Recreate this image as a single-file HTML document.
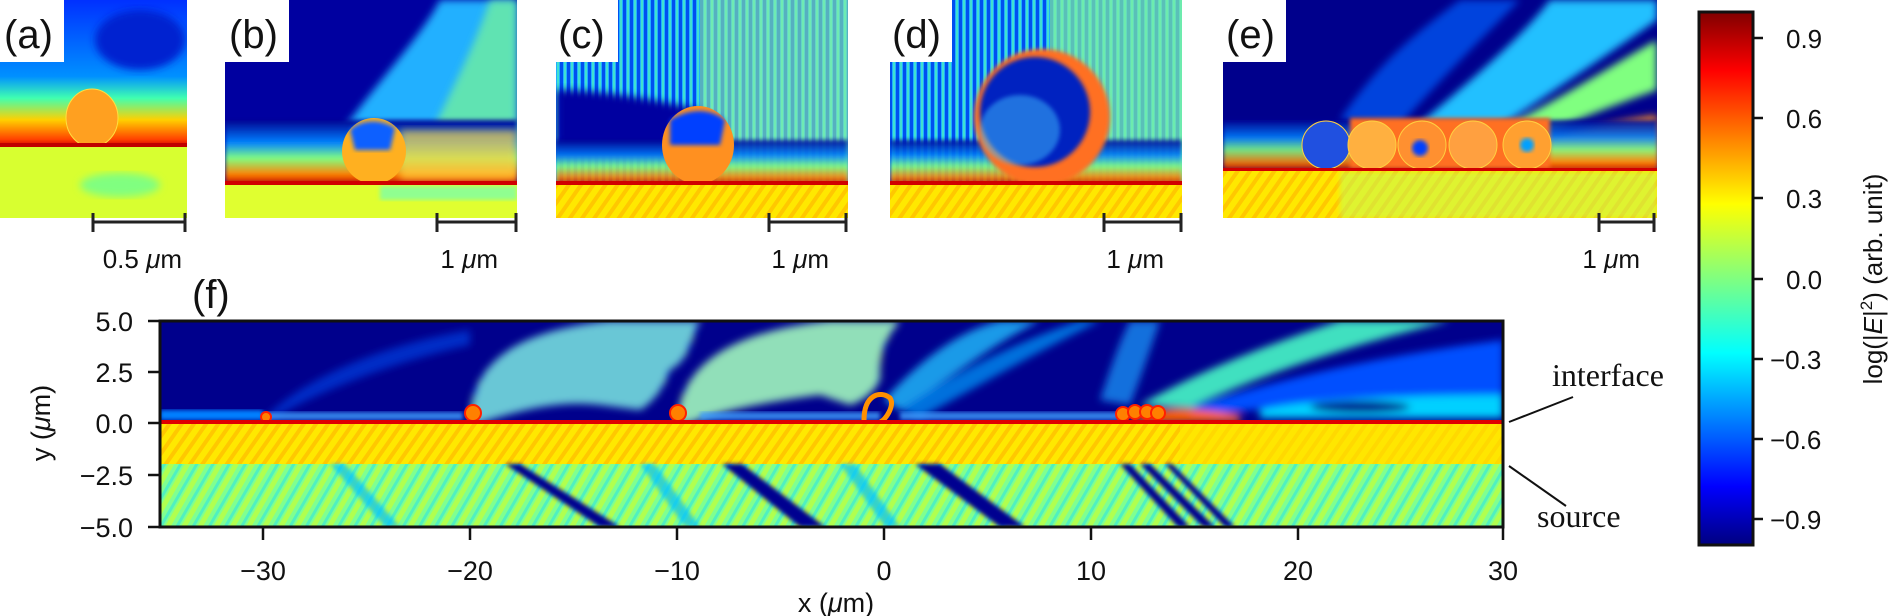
<!DOCTYPE html>
<html><head><meta charset="utf-8"><style>
html,body{margin:0;padding:0;background:#fff;}
svg{display:block;}
text{font-family:"Liberation Sans",sans-serif;fill:#111;}
.serif{font-family:"Liberation Serif",serif;}
</style></head><body>
<svg width="1891" height="616" viewBox="0 0 1891 616" xmlns="http://www.w3.org/2000/svg">
<defs>
<linearGradient id="jet" x1="0" y1="0" x2="0" y2="1">
<stop offset="0" stop-color="#800000"/><stop offset="0.11" stop-color="#ff0000"/>
<stop offset="0.36" stop-color="#ffff00"/><stop offset="0.5" stop-color="#80ff80"/>
<stop offset="0.64" stop-color="#00ffff"/><stop offset="0.89" stop-color="#0000ff"/>
<stop offset="1" stop-color="#000080"/></linearGradient>
<pattern id="vs" width="7" height="10" patternUnits="userSpaceOnUse">
<rect width="7" height="10" fill="#20b0ff"/><rect width="3" height="10" fill="#0050f0"/><rect x="4" width="2" height="10" fill="#40e0d0"/></pattern>
<pattern id="vsd" width="7" height="10" patternUnits="userSpaceOnUse">
<rect width="7" height="10" fill="#40e0e0"/><rect width="3" height="10" fill="#1070ff"/><rect x="4" width="2" height="10" fill="#b0ff60"/></pattern>
<pattern id="vs2" width="7" height="10" patternUnits="userSpaceOnUse">
<rect width="7" height="10" fill="#70f0b0"/><rect width="2" height="10" fill="#1090ff"/><rect x="4" width="2" height="10" fill="#e0ff30"/></pattern>
<pattern id="ys" width="10" height="10" patternUnits="userSpaceOnUse" patternTransform="rotate(35)">
<rect width="10" height="10" fill="#ffe800"/><rect width="4" height="10" fill="#ffc800"/></pattern>
<pattern id="gs" width="14" height="10" patternUnits="userSpaceOnUse" patternTransform="rotate(30)">
<rect width="14" height="10" fill="#80ff90"/><rect width="5" height="10" fill="#b0ff50"/><rect x="9" width="3" height="10" fill="#50f0c0"/></pattern>
<filter id="bl"><feGaussianBlur stdDeviation="4"/></filter>
<filter id="bl2"><feGaussianBlur stdDeviation="2"/></filter>
<clipPath id="cf"><rect x="160" y="321" width="1343" height="206"/></clipPath>
<clipPath id="ca"><rect x="0" y="0" width="187" height="218"/></clipPath>
<clipPath id="cb"><rect x="225" y="0" width="292" height="218"/></clipPath>
<clipPath id="cc"><rect x="556" y="0" width="292" height="218"/></clipPath>
<clipPath id="cd"><rect x="890" y="0" width="292" height="218"/></clipPath>
<clipPath id="ce"><rect x="1223" y="0" width="434" height="218"/></clipPath>
<linearGradient id="ga" x1="0" y1="0" x2="0" y2="1">
<stop offset="0" stop-color="#0030ff"/><stop offset="0.35" stop-color="#0090ff"/><stop offset="0.45" stop-color="#40ffb0"/>
<stop offset="0.55" stop-color="#ffd000"/><stop offset="0.64" stop-color="#ff4000"/><stop offset="0.67" stop-color="#d00000"/>
<stop offset="0.68" stop-color="#ffd000"/><stop offset="1" stop-color="#d0ff30"/></linearGradient>
<linearGradient id="band" x1="0" y1="0" x2="0" y2="1">
<stop offset="0" stop-color="#000090"/><stop offset="0.35" stop-color="#0080ff"/><stop offset="0.6" stop-color="#80ff80"/>
<stop offset="0.85" stop-color="#ff8000"/><stop offset="1" stop-color="#c00000"/></linearGradient>
</defs>

<!-- ===== Main panel (f) ===== -->
<g clip-path="url(#cf)">
<rect x="160" y="321" width="1343" height="102" fill="#00008c"/>
<g filter="url(#bl)">
<path d="M263,420 C300,380 380,345 470,330 L470,345 C400,360 320,390 270,420Z" fill="#0040e0" opacity="0.7"/>
<path d="M470,423 C470,360 520,330 610,321 L700,321 C690,340 690,360 670,370 C660,400 640,410 640,410 L600,405 C560,400 520,410 480,423Z" fill="url(#vsd)"/>
<path d="M677,423 C680,360 740,330 830,321 L900,321 C880,345 880,360 880,380 C870,400 850,405 850,405 L820,395 C780,400 720,410 690,423Z" fill="url(#vs2)"/>
<path d="M884,400 C920,360 960,330 1000,321 L1040,321 C990,345 950,380 900,410Z" fill="#20c0ff" opacity="0.8"/>
<path d="M900,410 C960,370 1020,340 1080,321 L1100,321 C1040,350 980,385 920,418Z" fill="#00a0ff" opacity="0.7"/>
<path d="M1100,400 C1110,370 1120,340 1130,321 L1160,321 C1150,350 1140,380 1130,405Z" fill="#20a0ff" opacity="0.7"/>
<path d="M1140,405 C1200,370 1280,340 1340,321 L1450,321 C1350,345 1260,375 1190,408Z" fill="#40e0c0"/>
<path d="M1190,408 C1260,385 1350,360 1503,340 L1503,395 C1400,395 1300,405 1200,415Z" fill="#0050ff"/>
<path d="M1260,410 C1300,400 1400,395 1503,395 L1503,418 L1260,418Z" fill="#00d0ff"/>
<ellipse cx="1360" cy="407" rx="50" ry="6" fill="#00008c"/>
<path d="M1130,420 C1160,405 1190,408 1240,415 L1240,422 L1130,422Z" fill="#ff6000"/>
</g>
<rect x="160" y="410" width="103" height="10" fill="#0080ff" filter="url(#bl2)"/>
<rect x="263" y="412" width="200" height="8" fill="#40a0ff" filter="url(#bl2)" opacity="0.8"/>
<rect x="700" y="412" width="180" height="8" fill="#40a0ff" filter="url(#bl2)" opacity="0.8"/>
<rect x="900" y="412" width="220" height="8" fill="#40a0ff" filter="url(#bl2)" opacity="0.8"/>
<g fill="#ff8000" stroke="#ff2000" stroke-width="2">
<circle cx="266" cy="417" r="5"/><circle cx="473" cy="413" r="8"/><circle cx="678" cy="413" r="8"/>
<path d="M864,420 C864,395 880,390 890,398 C895,405 886,420 880,422" fill="none" stroke="#ff9000" stroke-width="5"/>
<circle cx="1123" cy="414" r="7"/><circle cx="1135" cy="412" r="7"/><circle cx="1147" cy="412" r="7"/><circle cx="1158" cy="413" r="7"/>
</g>
<rect x="160" y="423" width="1343" height="41" fill="url(#ys)"/>
<rect x="1180" y="423" width="323" height="41" fill="#ffe400" opacity="0.6"/>
<rect x="160" y="420" width="1343" height="4" fill="#e00000"/>
<rect x="160" y="464" width="1343" height="63" fill="url(#gs)"/>
<g filter="url(#bl2)" fill="#000090">
<path d="M505,464 L520,464 L620,527 L600,527Z"/>
<path d="M722,464 L742,464 L825,527 L800,527Z"/>
<path d="M915,464 L940,464 L1025,527 L1000,527Z"/>
<path d="M1120,464 L1130,464 L1190,527 L1178,527Z"/>
<path d="M1140,464 L1150,464 L1215,527 L1203,527Z"/>
<path d="M1165,464 L1172,464 L1235,527 L1225,527Z"/>
</g>
<g filter="url(#bl2)" fill="#00c0ff" opacity="0.7">
<path d="M330,464 L345,464 L400,527 L385,527Z"/><path d="M640,464 L655,464 L700,527 L685,527Z"/>
<path d="M840,464 L855,464 L900,527 L885,527Z"/>
</g>
</g>
<rect x="160" y="321" width="1343" height="206" fill="none" stroke="#111" stroke-width="3"/>
<g stroke="#111" stroke-width="2.5">
<line x1="148" y1="321" x2="160" y2="321"/><line x1="148" y1="372" x2="160" y2="372"/><line x1="148" y1="423" x2="160" y2="423"/><line x1="148" y1="475" x2="160" y2="475"/><line x1="148" y1="527" x2="160" y2="527"/>
<line x1="263" y1="527" x2="263" y2="540"/><line x1="470" y1="527" x2="470" y2="540"/><line x1="677" y1="527" x2="677" y2="540"/><line x1="884" y1="527" x2="884" y2="540"/><line x1="1091" y1="527" x2="1091" y2="540"/><line x1="1298" y1="527" x2="1298" y2="540"/><line x1="1503" y1="527" x2="1503" y2="540"/>
</g>
<g font-size="27" text-anchor="end">
<text x="133" y="331">5.0</text><text x="133" y="382">2.5</text><text x="133" y="433">0.0</text><text x="133" y="485">−2.5</text><text x="133" y="537">−5.0</text>
</g>
<g font-size="27" text-anchor="middle">
<text x="263" y="580">−30</text><text x="470" y="580">−20</text><text x="677" y="580">−10</text><text x="884" y="580">0</text><text x="1091" y="580">10</text><text x="1298" y="580">20</text><text x="1503" y="580">30</text>
<text x="836" y="612">x (<tspan font-style="italic">μ</tspan>m)</text>
<text transform="translate(50,423) rotate(-90)">y (<tspan font-style="italic">μ</tspan>m)</text>
</g>
<text x="192" y="308" font-size="40">(f)</text>
<g stroke="#111" stroke-width="2">
<line x1="1509" y1="422" x2="1573" y2="397"/><line x1="1509" y1="466" x2="1566" y2="506"/>
</g>
<text class="serif" x="1552" y="386" font-size="32">interface</text>
<text class="serif" x="1537" y="527" font-size="32">source</text>

<!-- ===== Panel a ===== -->
<g clip-path="url(#ca)">
<rect x="0" y="0" width="187" height="218" fill="url(#ga)"/>
<rect x="0" y="147" width="187" height="71" fill="#d8ff30"/>
<ellipse cx="120" cy="185" rx="40" ry="12" fill="#80ff80" filter="url(#bl)"/>
<ellipse cx="92" cy="118" rx="26" ry="29" fill="#ffa020" stroke="#ffe040" stroke-width="1"/>
<ellipse cx="140" cy="40" rx="45" ry="30" fill="#0020d0" filter="url(#bl)"/>
<rect x="0" y="143" width="187" height="4" fill="#c00000"/>
</g>
<!-- ===== Panel b ===== -->
<g clip-path="url(#cb)">
<rect x="225" y="0" width="292" height="218" fill="#0000a0"/>
<path d="M330,150 C360,100 420,40 440,0 L517,0 L517,160 L340,160Z" fill="#20b0ff" filter="url(#bl)"/>
<path d="M420,160 C440,110 470,60 490,0 L517,0 L517,170Z" fill="#70f0a0" filter="url(#bl)" opacity="0.8"/>
<rect x="225" y="120" width="292" height="64" fill="url(#band)" filter="url(#bl2)"/>
<rect x="400" y="130" width="117" height="50" fill="#ffd040" opacity="0.7" filter="url(#bl)"/>
<ellipse cx="374" cy="151" rx="32" ry="33" fill="#ffb020"/>
<path d="M350,130 C360,120 380,118 395,128 L390,150 L355,150Z" fill="#1060ff" filter="url(#bl2)"/>
<rect x="225" y="184" width="292" height="34" fill="#e0ff30"/>
<rect x="380" y="186" width="137" height="14" fill="#90ff90" filter="url(#bl2)"/>
<rect x="225" y="181" width="292" height="4" fill="#d00000"/>
</g>
<!-- ===== Panel c ===== -->
<g clip-path="url(#cc)">
<rect x="556" y="0" width="292" height="218" fill="url(#vs)"/>
<rect x="700" y="0" width="148" height="184" fill="#90f0a0" opacity="0.6"/>
<path d="M556,90 C600,90 660,100 700,110 L700,160 L556,160Z" fill="#0000a0" filter="url(#bl)"/>
<rect x="556" y="140" width="292" height="44" fill="url(#band)" filter="url(#bl2)" opacity="0.9"/>
<ellipse cx="698" cy="145" rx="36" ry="39" fill="#ff9020"/>
<path d="M670,120 C690,108 710,108 725,120 L720,145 L670,145Z" fill="#0040ff" filter="url(#bl2)"/>
<rect x="556" y="184" width="292" height="34" fill="url(#ys)"/>
<rect x="556" y="181" width="292" height="4" fill="#d00000"/>
</g>
<!-- ===== Panel d ===== -->
<g clip-path="url(#cd)">
<rect x="890" y="0" width="292" height="218" fill="url(#vs)"/>
<rect x="1050" y="0" width="132" height="184" fill="#80f0a0" opacity="0.7"/>
<rect x="890" y="140" width="292" height="44" fill="url(#band)" filter="url(#bl2)" opacity="0.9"/>
<ellipse cx="1042" cy="117" rx="68" ry="68" fill="#ff7020" filter="url(#bl2)"/>
<ellipse cx="1035" cy="112" rx="55" ry="55" fill="#0020c0" filter="url(#bl2)"/>
<ellipse cx="1020" cy="130" rx="40" ry="35" fill="#40c0ff" opacity="0.5" filter="url(#bl2)"/>
<rect x="890" y="184" width="292" height="34" fill="url(#ys)"/>
<rect x="890" y="181" width="292" height="4" fill="#d00000"/>
</g>
<!-- ===== Panel e ===== -->
<g clip-path="url(#ce)">
<rect x="1223" y="0" width="434" height="218" fill="#00008c"/>
<g filter="url(#bl)">
<path d="M1400,140 C1460,90 1520,40 1550,0 L1657,0 L1657,20 C1600,60 1540,100 1480,140Z" fill="#20c0ff"/>
<path d="M1480,140 C1560,100 1620,60 1657,40 L1657,90 C1600,110 1550,130 1520,145Z" fill="#80ff80"/>
<path d="M1520,145 C1580,130 1620,120 1657,115 L1657,170 L1520,170Z" fill="#ff9020"/>
<path d="M1340,120 C1380,60 1420,30 1460,0 L1520,0 C1480,40 1440,80 1400,125Z" fill="#0060ff" opacity="0.7"/>
</g>
<rect x="1223" y="120" width="434" height="50" fill="url(#band)" filter="url(#bl2)" opacity="0.9"/>
<rect x="1350" y="118" width="200" height="50" fill="#ff7020" filter="url(#bl2)"/>
<g stroke="#ffd040" stroke-width="1">
<circle cx="1326" cy="145" r="24" fill="#2050e0"/><circle cx="1372" cy="145" r="24" fill="#ffb040"/>
<circle cx="1422" cy="145" r="24" fill="#ff9030"/><circle cx="1473" cy="145" r="24" fill="#ffa040"/>
<circle cx="1527" cy="145" r="24" fill="#ffa030"/>
</g>
<circle cx="1420" cy="148" r="8" fill="#0040ff" filter="url(#bl2)"/>
<circle cx="1527" cy="145" r="7" fill="#00a0ff" filter="url(#bl2)"/>
<rect x="1223" y="170" width="434" height="48" fill="url(#ys)"/>
<rect x="1340" y="172" width="317" height="46" fill="#c0ff60" opacity="0.5" filter="url(#bl2)"/>
<rect x="1223" y="168" width="434" height="3" fill="#d00000"/>
</g>

<g fill="#fff">
<rect x="0" y="0" width="64" height="62"/><rect x="225" y="0" width="64" height="62"/><rect x="556" y="0" width="62" height="62"/><rect x="890" y="0" width="62" height="62"/><rect x="1223" y="0" width="63" height="62"/>
</g>
<g font-size="40">
<text x="4" y="48">(a)</text><text x="229" y="48">(b)</text><text x="558" y="48">(c)</text><text x="892" y="48">(d)</text><text x="1226" y="48">(e)</text>
</g>
<g stroke="#222" stroke-width="3">
<line x1="93" y1="222" x2="185" y2="222"/><line x1="93" y1="213" x2="93" y2="232"/><line x1="185" y1="213" x2="185" y2="232"/>
<line x1="437" y1="222" x2="516" y2="222"/><line x1="437" y1="213" x2="437" y2="232"/><line x1="516" y1="213" x2="516" y2="232"/>
<line x1="769" y1="222" x2="846" y2="222"/><line x1="769" y1="213" x2="769" y2="232"/><line x1="846" y1="213" x2="846" y2="232"/>
<line x1="1104" y1="222" x2="1181" y2="222"/><line x1="1104" y1="213" x2="1104" y2="232"/><line x1="1181" y1="213" x2="1181" y2="232"/>
<line x1="1599" y1="222" x2="1654" y2="222"/><line x1="1599" y1="213" x2="1599" y2="232"/><line x1="1654" y1="213" x2="1654" y2="232"/>
</g>
<g font-size="26" text-anchor="end">
<text x="182" y="268">0.5 <tspan font-style="italic">μ</tspan>m</text>
<text x="498" y="268">1 <tspan font-style="italic">μ</tspan>m</text>
<text x="829" y="268">1 <tspan font-style="italic">μ</tspan>m</text>
<text x="1164" y="268">1 <tspan font-style="italic">μ</tspan>m</text>
<text x="1640" y="268">1 <tspan font-style="italic">μ</tspan>m</text>
</g>

<rect x="1699" y="12" width="54" height="533" fill="url(#jet)" stroke="#111" stroke-width="3"/>
<g stroke="#111" stroke-width="2.5">
<line x1="1753" y1="38" x2="1763" y2="38"/><line x1="1753" y1="118" x2="1763" y2="118"/><line x1="1753" y1="198" x2="1763" y2="198"/><line x1="1753" y1="279" x2="1763" y2="279"/><line x1="1753" y1="359" x2="1763" y2="359"/><line x1="1753" y1="439" x2="1763" y2="439"/><line x1="1753" y1="519" x2="1763" y2="519"/>
</g>
<g font-size="26">
<text x="1786" y="48">0.9</text><text x="1786" y="128">0.6</text><text x="1786" y="208">0.3</text><text x="1786" y="289">0.0</text><text x="1770" y="369">−0.3</text><text x="1770" y="449">−0.6</text><text x="1770" y="529">−0.9</text>
</g>
<text font-size="26" text-anchor="middle" transform="translate(1882,279) rotate(-90)">log(|<tspan font-style="italic">E</tspan>|<tspan font-size="17" dy="-10">2</tspan><tspan dy="10">) (arb. unit)</tspan></text>
</svg>
</body></html>
